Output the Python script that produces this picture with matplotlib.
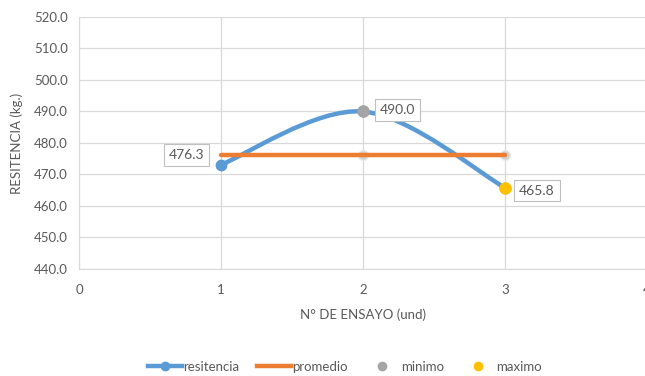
import matplotlib
matplotlib.use("Agg")
import matplotlib.pyplot as plt
from matplotlib.path import Path
from matplotlib.patches import PathPatch
from matplotlib.lines import Line2D

# data
ensayo = [1, 2, 3]
resitencia = [473.1, 490.0, 465.8]
promedio = [476.3, 476.3, 476.3]
minimo_x, minimo_y = [2], [490.0]
maximo_x, maximo_y = [3], [465.8]
y_ticks = [440, 450, 460, 470, 480, 490, 500, 510, 520]
x_ticks = [0, 1, 2, 3, 4]

BLUE = "#5B9BD5"
ORANGE = "#ED7D31"
GRAY = "#A5A5A5"
YELLOW = "#FFC000"
TXT = "#595959"

plt.rcParams["font.family"] = ["Lato", "DejaVu Sans"]

fig = plt.figure(figsize=(6.45, 3.76), dpi=100)
ax = fig.add_axes([79 / 645, 1 - 269 / 376, 568 / 645, 252 / 376])
ax.set_xlim(0, 4)
ax.set_ylim(440, 520)


def smooth_path(xs, ys):
    # excel-like smoothed line: bezier segments through the points
    n = len(xs)
    verts = [(xs[0], ys[0])]
    codes = [Path.MOVETO]
    for i in range(n - 1):
        p0 = (xs[max(i - 1, 0)], ys[max(i - 1, 0)])
        p1 = (xs[i], ys[i])
        p2 = (xs[i + 1], ys[i + 1])
        p3 = (xs[min(i + 2, n - 1)], ys[min(i + 2, n - 1)])
        c1 = (p1[0] + (p2[0] - p0[0]) / 6, p1[1] + (p2[1] - p0[1]) / 6)
        c2 = (p2[0] - (p3[0] - p1[0]) / 6, p2[1] - (p3[1] - p1[1]) / 6)
        verts += [c1, c2, p2]
        codes += [Path.CURVE4] * 3
    return Path(verts, codes)


ax.add_patch(PathPatch(smooth_path(ensayo, resitencia), fill=False,
                       edgecolor=BLUE, lw=3.2, capstyle="round", zorder=3))
ax.plot(ensayo, resitencia, ls="none", marker="o", ms=7.5, color=BLUE, zorder=4)
ax.plot(ensayo, promedio, color=ORANGE, lw=3.2, solid_capstyle="round", zorder=5)
ax.plot(ensayo[1:], promedio[1:], ls="none", marker="o", ms=7,
        mfc="#D0D0D0", mec="#E8E8E8", zorder=4)
ax.plot(minimo_x, minimo_y, ls="none", marker="o", ms=8, color=GRAY, zorder=6)
ax.plot(maximo_x, maximo_y, ls="none", marker="o", ms=8, color=YELLOW, zorder=6)

box = dict(boxstyle="square,pad=0.35", fc="white", ec="#BFBFBF", lw=0.8)
ax.annotate(f"{promedio[0]:.1f}", (ensayo[0], promedio[0]), xytext=(-25, 0),
            textcoords="offset points", ha="center", va="center",
            fontsize=10, color=TXT, bbox=box, zorder=7)
ax.annotate(f"{minimo_y[0]:.1f}", (minimo_x[0], minimo_y[0]), xytext=(25, 1),
            textcoords="offset points", ha="center", va="center",
            fontsize=10, color=TXT, bbox=box, zorder=7)
ax.annotate(f"{maximo_y[0]:.1f}", (maximo_x[0], maximo_y[0]), xytext=(23, -2),
            textcoords="offset points", ha="center", va="center",
            fontsize=10, color=TXT, bbox=box, zorder=7)

ax.set_yticks(y_ticks)
ax.set_yticklabels([f"{v:.1f}" for v in y_ticks])
ax.set_xticks(x_ticks)
ax.grid(True, color="#D9D9D9", lw=0.9)
ax.set_axisbelow(True)
for s in ["top", "right"]:
    ax.spines[s].set_visible(False)
ax.spines["left"].set_color("#D9D9D9")
ax.spines["bottom"].set_color("#D9D9D9")
ax.tick_params(length=0, labelsize=9.5, labelcolor=TXT, pad=8)
ax.tick_params(axis="x", pad=11)
ax.set_xlabel("N° DE ENSAYO (und)", fontsize=9.5, color=TXT, labelpad=9)
ax.set_ylabel("RESITENCIA (kg.)", fontsize=9.5, color=TXT, labelpad=8)

handles = [
    Line2D([], [], color=BLUE, lw=3.2, marker="o", ms=6),
    Line2D([], [], color=ORANGE, lw=3.2),
    Line2D([], [], ls="none", marker="o", ms=6, color=GRAY),
    Line2D([], [], ls="none", marker="o", ms=6, color=YELLOW),
]
fig.legend(handles, ["resitencia", "promedio", "minimo", "maximo"],
           loc="center", bbox_to_anchor=(345 / 645, 1 - 367 / 376), ncol=4,
           frameon=False, fontsize=9.5, labelcolor=TXT, handlelength=2.6,
           handletextpad=0.1, columnspacing=1.3)

fig.savefig("out.png", dpi=100)
